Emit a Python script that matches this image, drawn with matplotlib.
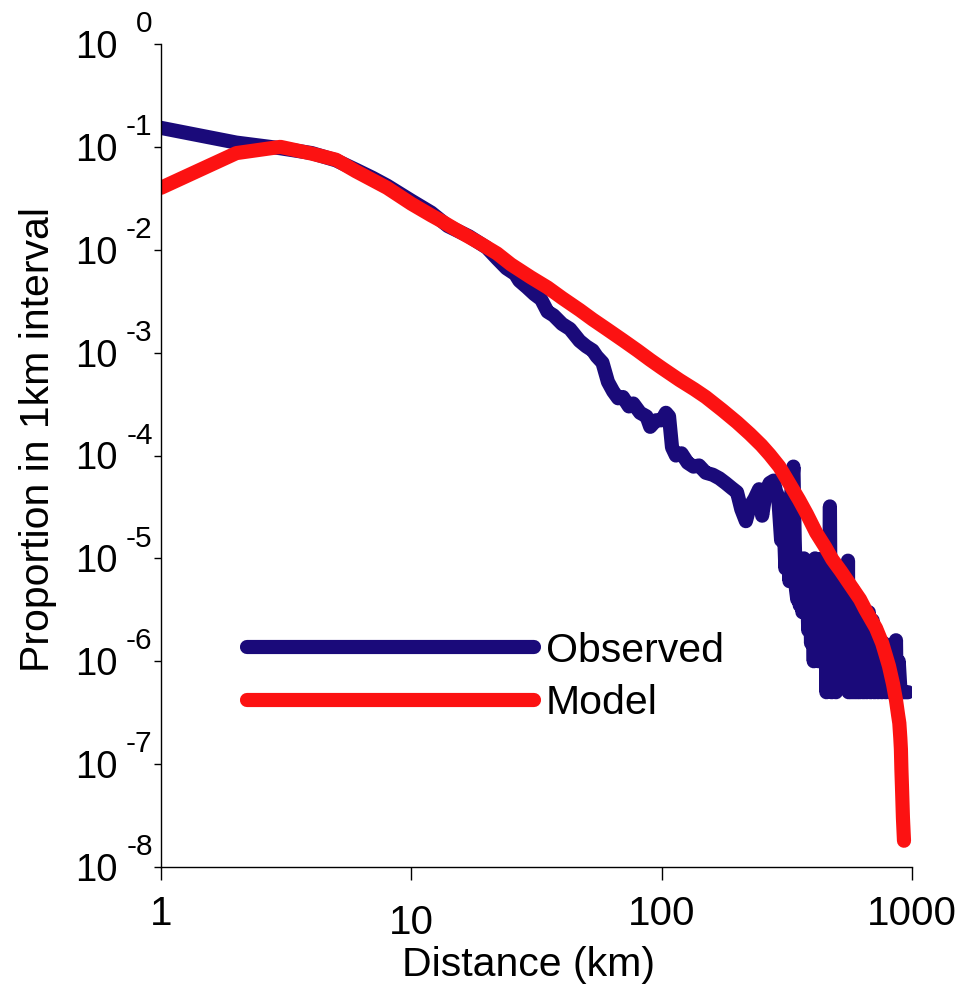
import matplotlib
matplotlib.use("Agg")
import matplotlib.pyplot as plt
from matplotlib.transforms import offset_copy

plt.rcParams['font.family'] = ['Liberation Sans', 'DejaVu Sans']

# Observed distribution (distance km, proportion in 1km interval)
obs_dist = [1, 2, 3, 4, 5, 6, 7, 8, 10, 12, 14, 17, 20, 22, 24, 26, 27, 29, 31, 33,
            35, 37, 40, 43, 47, 50, 53, 55, 58, 61, 64, 67, 70, 74, 77, 82, 87, 90,
            95, 100, 104, 107, 110, 114, 120, 127, 134, 141, 150, 160, 170, 180, 191,
            200, 208, 217, 225, 235, 245, 252, 261, 270, 280, 286, 292, 300, 306, 312,
            318, 324, 330, 336, 340, 344,
            348, 352, 356, 360, 365, 370, 375, 380, 385, 390, 395, 400, 405, 410, 415,
            420, 425, 430, 435, 440, 445, 450, 455, 460, 465, 470, 473, 478, 483, 488,
            493, 497, 502, 507, 512, 518, 524, 530, 536, 542, 548, 552, 555, 558, 565,
            572, 580, 588, 596, 604, 612, 620, 630, 640, 650, 660, 672, 684, 696, 708,
            720, 732, 745, 758, 772, 786, 800, 815, 830, 845, 858, 863, 868, 885, 900,
            930, 965]
obs_prop = [0.153, 0.110, 0.097, 0.087, 0.074, 0.060, 0.050, 0.042, 0.030, 0.023,
            0.017, 0.0135, 0.0105, 0.0082, 0.0066, 0.0058, 0.0050, 0.0043, 0.0037,
            0.0033, 0.0025, 0.0023, 0.0019, 0.0017, 0.00130, 0.00115, 0.00105,
            0.00092, 0.00080, 0.00052, 0.00042, 0.00036, 0.00037, 0.00030, 0.00032,
            0.00026, 0.00024, 0.00019,
            2.2e-4, 2.2e-4, 2.6e-4, 2.4e-4, 1.2e-4, 1.0e-4, 1.05e-4, 8.5e-5, 7.8e-5,
            8.0e-5, 6.8e-5, 6.5e-5, 6.0e-5, 5.4e-5, 4.8e-5, 4.4e-5, 3.0e-5, 2.3e-5,
            3.2e-5, 3.8e-5, 4.7e-5, 2.6e-5, 4.5e-5, 5.4e-5, 5.7e-5, 4.5e-5, 4.0e-5,
            1.5e-5, 3.0e-5, 8.0e-6, 3.0e-5, 6.0e-6, 4.5e-5, 7.8e-5, 1.5e-5, 5.0e-6,
            4.0e-6, 1.0e-5, 3.5e-6, 8.0e-6, 3.0e-6, 1.0e-5, 4.0e-6, 7.0e-6,
            2.0e-6, 8.0e-6, 1.5e-6, 6.0e-6, 1.0e-6, 1.0e-5, 1.5e-6, 6.0e-6, 1.0e-6,
            8.0e-6, 1.0e-6, 1.0e-5, 1.0e-6, 6.0e-6, 5.0e-7, 8.0e-6, 1.0e-6, 3.2e-5,
            2.0e-6, 5.0e-7, 5.0e-6, 1.0e-6, 8.0e-6, 5.0e-7, 6.0e-6, 1.5e-6, 8.0e-6,
            1.5e-6, 6.0e-6, 1.5e-6, 7.0e-6, 1.5e-6, 5.0e-6, 1.0e-6, 9.5e-6, 5.0e-7,
            4.0e-6, 5.0e-7, 5.0e-6, 5.0e-7, 4.0e-6, 5.0e-7, 4.0e-6, 5.0e-7, 3.5e-6,
            5.0e-7, 3.0e-6, 5.0e-7, 3.0e-6, 5.0e-7, 2.5e-6, 5.0e-7, 2.0e-6, 5.0e-7,
            1.5e-6, 5.0e-7, 1.5e-6, 5.0e-7, 1.2e-6, 5.0e-7, 1.0e-6, 5.0e-7, 1.0e-6,
            1.6e-6, 5.0e-7, 1.0e-6, 5.0e-7, 5.0e-7, 5.0e-7]

# Model prediction
mod_dist = [1, 2, 3, 4, 5, 6, 8, 10, 12, 13, 15, 17, 19, 22, 25, 30, 35, 40, 47, 53,
            60, 70, 80, 90, 100, 118, 135, 150, 175, 200, 225, 250, 270, 295, 320,
            354, 380, 414, 450, 480, 520, 576, 620, 650, 718, 760, 809, 840, 863,
            880, 890, 898, 903, 907, 912, 920, 929]
mod_prop = [0.040, 0.087, 0.100, 0.086, 0.075, 0.058, 0.040, 0.028, 0.0216, 0.0194,
            0.0158, 0.0133, 0.0114, 0.0092, 0.0072, 0.0054, 0.0043, 0.0034, 0.0026,
            0.0021, 0.00171, 0.00132, 0.00105, 0.00085, 0.00071, 0.00054, 0.00044,
            0.00037, 0.000275, 0.00021, 0.000162, 0.000126, 0.000102, 7.8e-5, 5.6e-5,
            3.7e-5, 2.7e-5, 1.78e-5, 1.29e-5, 9.8e-6, 7.5e-6, 5.2e-6, 4.0e-6,
            3.2e-6, 2.1e-6, 1.5e-6, 9.0e-7, 6.0e-7, 4.2e-7, 3.0e-7, 2.5e-7, 1.8e-7,
            1.4e-7, 9e-8, 6e-8, 3e-8, 1.8e-8]

x_ticks = [1, 10, 100, 1000]
x_labels = ['1', '10', '100', '1000']
y_exps = [0, -1, -2, -3, -4, -5, -6, -7, -8]

blue = '#1a0a7a'
red = '#fc1212'

fig = plt.figure(figsize=(9.67, 9.9), dpi=100)
ax = fig.add_axes([161 / 967, 1 - 867 / 990, 751 / 967, 823 / 990])

ax.plot(obs_dist, obs_prop, color=blue, lw=10.2, solid_capstyle='round',
        solid_joinstyle='round', label='Observed')
ax.plot(mod_dist, mod_prop, color=red, lw=10.2, solid_capstyle='round',
        solid_joinstyle='round', label='Model')

ax.set_xscale('log')
ax.set_yscale('log')
ax.set_xlim(1, 1000)
ax.set_ylim(1e-8, 1)
ax.minorticks_off()

for s in ['top', 'right']:
    ax.spines[s].set_visible(False)
for s in ['left', 'bottom']:
    ax.spines[s].set_linewidth(1.0)

ax.set_xticks(x_ticks)
ax.set_xticklabels([])
ax.set_yticks([10.0 ** e for e in y_exps])
ax.set_yticklabels([])
ax.tick_params(axis='x', length=9.5, width=1.0, direction='out')
ax.tick_params(axis='y', length=5, width=1.0, direction='out')

# y tick labels as "10" with raised exponent
ytr = ax.get_yaxis_transform()
for e in y_exps:
    t1 = offset_copy(ytr, fig=fig, x=-31, y=-10, units='points')
    ax.text(0, 10.0 ** e, '10', transform=t1, ha='right', va='baseline',
            fontsize=27.5, clip_on=False)
    t2 = offset_copy(ytr, fig=fig, x=-6, y=8.5, units='points')
    ax.text(0, 10.0 ** e, str(e), transform=t2, ha='right', va='baseline',
            fontsize=21.5, clip_on=False)

# x tick labels
xtr = ax.get_xaxis_transform()
x_shift = [0, -6, 0, 0]
for v, lab, dy in zip(x_ticks, x_labels, x_shift):
    t = offset_copy(xtr, fig=fig, x=0, y=-42 + dy, units='points')
    ax.text(v, 0, lab, transform=t, ha='center', va='baseline', fontsize=29,
            clip_on=False)

fig.text(528 / 967, 1 - 965 / 990, 'Distance (km)', ha='center', va='center',
         fontsize=29.5)
fig.text(38 / 967, 1 - 440 / 990, 'Proportion in 1km interval', ha='center',
         va='center', rotation=90, fontsize=29.5)

leg = ax.legend(loc='center left', bbox_to_anchor=(247 / 967, 1 - 677 / 990),
                bbox_transform=fig.transFigure, frameon=False, fontsize=29.5,
                handlelength=7.0, handletextpad=0.3, labelspacing=0.35,
                borderpad=0, borderaxespad=0)

fig.savefig('out.png', dpi=100)
